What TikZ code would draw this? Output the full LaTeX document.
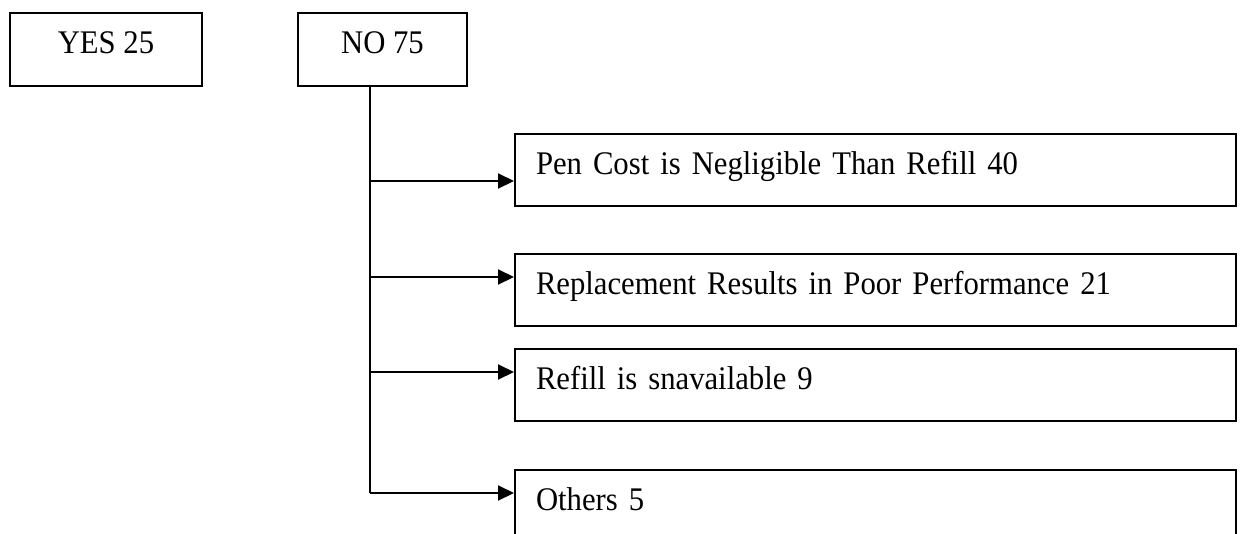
\documentclass[tikz,border=0pt]{standalone}
\usepackage{fontspec}
\setmainfont{Liberation Serif}[FakeStretch=0.93]
\usetikzlibrary{arrows.meta}
\begin{document}
\begin{tikzpicture}[x=1pt,y=-1pt,
  line width=2pt,
  topbox/.style={draw, anchor=north west, inner sep=0pt,
    minimum width=#1, text height=40pt, text depth=33pt,
    font=\fontsize{33}{38}\selectfont},
  reasonbox/.style={draw, anchor=north west, inner ysep=0pt, inner xsep=21pt,
    text width=679pt, align=left, text height=40pt, text depth=32pt,
    font=\fontsize{33}{38}\selectfont},
  arr/.style={-{Triangle[length=16pt,width=15pt]}}]
\useasboundingbox (0,0) rectangle (1240,533);
\clip (0,0) rectangle (1240,533);

% answer boxes
\node[topbox=192pt] (yes) at (9,12) {YES 25};
\node[topbox=169pt] (no) at (297,12) {NO 75};

% reasons for "no"
\node[reasonbox] (r1) at (514,133) {Pen Cost is Negligible Than Refill 40};
\node[reasonbox] (r2) at (514,253) {Replacement Results in Poor Performance 21};
\node[reasonbox] (r3) at (514,348) {Refill is snavailable 9};
\node[reasonbox] (r4) at (514,469) {Others 5};

% branch points on the trunk
\coordinate (j1) at (370,181);
\coordinate (j2) at (370,277);
\coordinate (j3) at (370,372);
\coordinate (j4) at (370,493);

\draw (no.south -| j4) -- (j4);
\draw[arr] (j1) -- (j1 -| r1.west);
\draw[arr] (j2) -- (j2 -| r2.west);
\draw[arr] (j3) -- (j3 -| r3.west);
\draw[arr] (j4) -- (j4 -| r4.west);
\end{tikzpicture}
\end{document}
